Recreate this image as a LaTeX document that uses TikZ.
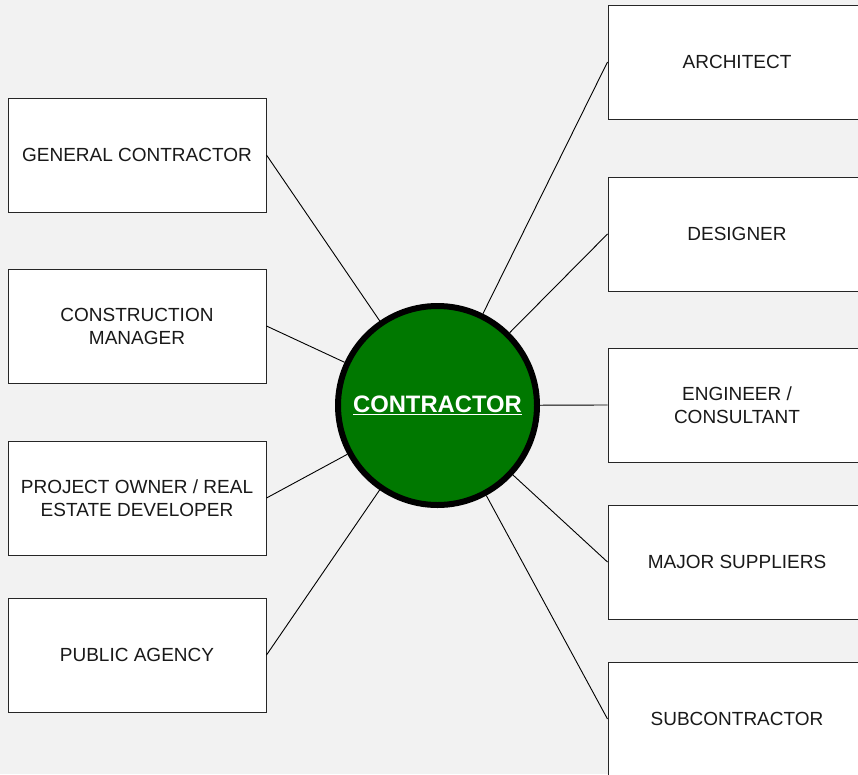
\documentclass[tikz,border=0pt]{standalone}
\usepackage{fontspec}
\setmainfont{Liberation Sans}
\definecolor{bggray}{HTML}{F2F2F2}
\definecolor{hubgreen}{HTML}{007800}
\definecolor{boxline}{HTML}{262626}
\begin{document}
\begin{tikzpicture}[x=1pt,y=-1pt,
  party/.style={rectangle, draw=boxline, line width=1pt, fill=white,
    minimum width=258pt, minimum height=114pt, inner sep=0pt,
    align=center, font=\fontsize{19}{23}\selectfont, text=black!90},
  hub/.style={circle, draw=black, line width=6pt, fill=hubgreen,
    minimum size=199pt, inner sep=0pt, text=white,
    font=\fontsize{23.8}{28}\selectfont\bfseries},
  link/.style={draw=black, line width=0.9pt}]
  \fill[bggray] (0,0) rectangle (858,774);
  \clip (0,0) rectangle (858,774);
  \useasboundingbox (0,0) rectangle (858,774);

  % central contractor
  \node[hub] (c) at (437.5,405.5) {\underline{CONTRACTOR}};

  % parties on the left
  \node[party] (gc) at (137,155) {GENERAL CONTRACTOR};
  \node[party] (cm) at (137,326) {CONSTRUCTION\\MANAGER};
  \node[party] (po) at (137,498) {PROJECT OWNER / REAL\\ESTATE DEVELOPER};
  \node[party] (pa) at (137,655) {PUBLIC AGENCY};

  % parties on the right
  \node[party] (ar) at (737,62) {ARCHITECT};
  \node[party] (de) at (737,234) {DESIGNER};
  \node[party] (en) at (737,405) {ENGINEER /\\CONSULTANT};
  \node[party] (ms) at (737,562) {MAJOR SUPPLIERS};
  \node[party] (sc) at (737,719) {SUBCONTRACTOR};

  % connectors from each party to the contractor
  \foreach \p in {gc,cm,po,pa}
    \draw[link] (\p.east) -- (c);
  \foreach \p in {ar,de,en,ms,sc}
    \draw[link] (\p.west) -- (c);
\end{tikzpicture}
\end{document}
